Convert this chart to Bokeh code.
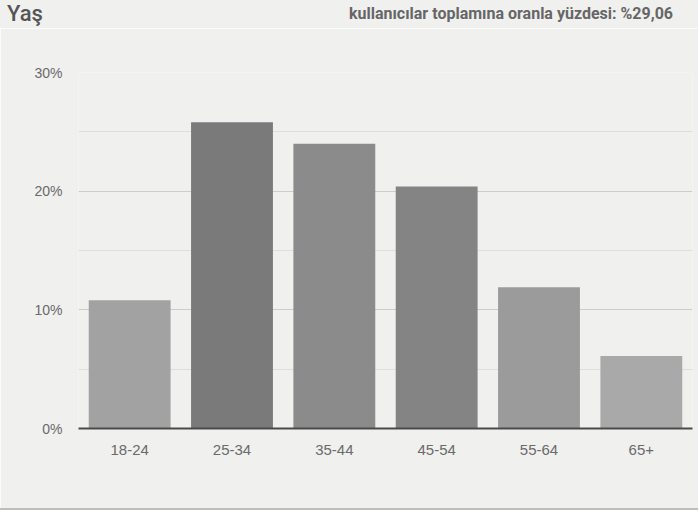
from bokeh.plotting import figure
from bokeh.models import FixedTicker, PrintfTickFormatter, Range1d, Div
from bokeh.layouts import column
from bokeh.embed import file_html
from bokeh.resources import INLINE

categories = ["18-24", "25-34", "35-44", "45-54", "55-64", "65+"]
values = [10.8, 25.8, 24.0, 20.4, 11.9, 6.1]
colors = ["#a2a2a2", "#7a7a7a", "#8b8b8b", "#848484", "#9b9b9b", "#a9a9a9"]
y_ticks = [0, 10, 20, 30]
y_minor = [5, 15, 25]
title_text = "Yaş"
note_text = "kullanıcılar toplamına oranla yüzdesi: %29,06"

BG = "#f0f0ef"
HEAD_H = 28

header = Div(
    text=(
        '<div style="display:flex;justify-content:space-between;align-items:center;'
        'width:698px;height:%dpx;box-sizing:border-box;padding:0 25px 0 7px;">'
        '<span style="font-family:Roboto;font-size:22px;font-weight:500;color:#555555;">%s</span>'
        '<span style="font-family:Roboto;font-size:16px;font-weight:bold;color:#666666;">%s</span>'
        '</div>' % (HEAD_H, title_text, note_text)
    ),
    width=698, height=HEAD_H, margin=(0, 0, 0, 0),
    styles={"background-color": BG},
)

p = figure(x_range=categories, y_range=Range1d(0, 30), width=698, height=510 - HEAD_H,
           output_backend="svg", toolbar_location=None,
           min_border_left=78, min_border_right=6, min_border_top=72 - HEAD_H, min_border_bottom=82,
           background_fill_color=BG, border_fill_color=BG, margin=(0, 0, 0, 0))
p.outline_line_color = None
p.styles = {"border-bottom": "2px solid #bdbdbd"}

p.vbar(x=categories, top=values, width=0.8, color=colors, line_color=None)

p.xgrid.grid_line_color = None
p.ygrid.grid_line_color = "#cccccc"
p.ygrid.grid_line_width = 1
p.ygrid.minor_grid_line_color = "#dedede"
p.ygrid.minor_grid_line_width = 1

p.yaxis.ticker = FixedTicker(ticks=y_ticks, minor_ticks=y_minor)
p.yaxis.formatter = PrintfTickFormatter(format="%d%%")
p.yaxis.axis_line_color = None
p.yaxis.major_tick_line_color = None
p.yaxis.minor_tick_line_color = None
p.yaxis.major_label_standoff = 10
p.yaxis.major_label_text_font = "Liberation Sans"
p.yaxis.major_label_text_font_size = "14px"
p.yaxis.major_label_text_color = "#6a6a6a"

p.xaxis.axis_line_color = "#4a4a4a"
p.xaxis.axis_line_width = 2
p.xaxis.major_tick_line_color = None
p.xaxis.minor_tick_line_color = None
p.xaxis.major_label_standoff = 10
p.xaxis.major_label_text_font = "Liberation Sans"
p.xaxis.major_label_text_font_size = "15px"
p.xaxis.major_label_text_color = "#6a6a6a"

layout = column(header, p, spacing=0, margin=(0, 0, 0, 0))

open("out.html", "w").write(file_html(layout, INLINE))
